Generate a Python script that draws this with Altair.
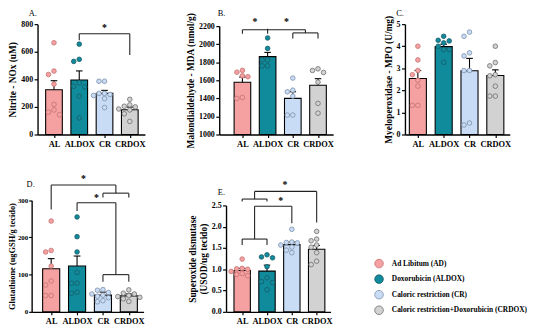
import altair as alt
import pandas as pd
import numpy as np

SERIF = "Liberation Serif"

groups = ["AL", "ALDOX", "CR", "CRDOX"]
legend_labels = ["Ad Libitum (AD)", "Doxorubicin (ALDOX)", "Caloric restriction (CR)",
                 "Caloric restriction+Doxorubicin (CRDOX)"]
bar_colors = ["#F6A1A1", "#0F8B9C", "#C8DCF5", "#D2D2D2"]
point_edges = ["#C47272", "#1B5A66", "#7D8FAA", "#6E6E6E"]

# ---------- A. Nitrite - NOx ----------
nox_mean = [325, 395, 298, 180]
nox_sem = [65, 66, 22, 19]
nox_points = [
    [665, 460, 435, 365, 218, 178, 162, 143],
    [655, 545, 530, 375, 350, 345, 278, 120],
    [386, 386, 298, 298, 290, 283, 260, 195],
    [255, 215, 205, 200, 185, 178, 150, 95],
]
nox_brackets = [[1, 3, 731, 731], [1, 1, 731, 683], [3, 3, 731, 576]]
nox_stars = [[2, 770]]

# ---------- B. Malondialdehyde - MDA ----------
mda_mean = [1578, 1862, 1400, 1545]
mda_sem = [58, 47, 73, 73]
mda_points = [
    [1710, 1690, 1650, 1640, 1410, 1400],
    [2069, 1953, 1825, 1825, 1760, 1760],
    [1625, 1491, 1473, 1425, 1215, 1215],
    [1727, 1709, 1687, 1580, 1345, 1236],
]
mda_brackets = [[0, 2.5, 2160, 2160], [0, 0, 2160, 2115], [1, 1, 2170, 2115],
                [2.5, 2.5, 2160, 2125], [2, 3, 2125, 2125], [2, 2, 2125, 2062], [3, 3, 2125, 2062]]
mda_stars = [[0.5, 2240], [1.75, 2240]]

# ---------- C. Myeloperoxidase - MPO ----------
mpo_mean = [2.54, 3.98, 2.89, 2.67]
mpo_sem = [0.36, 0.11, 0.56, 0.26]
mpo_points = [
    [4.00, 3.38, 2.90, 2.71, 2.46, 2.19, 1.32, 1.32],
    [4.45, 4.27, 4.24, 4.15, 4.00, 3.85, 3.85, 3.27],
    [4.64, 4.45, 3.70, 3.56, 2.90, 2.90, 0.52, 0.43],
    [4.00, 3.26, 3.11, 2.71, 2.66, 2.19, 1.74, 1.74],
]
mpo_brackets = []
mpo_stars = []

# ---------- D. Glutathione ----------
gsh_mean = [116, 123, 45, 43]
gsh_sem = [27, 27, 8, 5]
gsh_points = [
    [244, 165, 161, 123, 83, 72, 44, 44],
    [255, 202, 161, 106, 77, 77, 53, 50],
    [60, 58, 52, 48, 45, 42, 38, 30, 27],
    [59, 50, 48, 44, 41, 39, 35, 28],
]
gsh_brackets = [[0, 2.5, 341, 341], [0, 0, 341, 275], [2.5, 2.5, 341, 319], [2, 3, 319, 319],
                [2, 2, 319, 307], [3, 3, 319, 307], [1, 2.5, 293, 293], [1, 1, 293, 271],
                [2.5, 2.5, 293, 100], [2, 3, 100, 100], [2, 2, 100, 81], [3, 3, 100, 81]]
gsh_stars = [[1.25, 356], [1.75, 307]]

# ---------- E. Superoxide dismutase ----------
sod_mean = [0.97, 0.957, 1.58, 1.47]
sod_sem = [0.05, 0.14, 0.06, 0.09]
sod_points = [
    [1.24, 1.02, 1.01, 1.00, 0.95, 0.90, 0.88, 0.85],
    [1.34, 1.29, 1.27, 1.06, 0.80, 0.71, 0.69, 0.52],
    [1.94, 1.64, 1.63, 1.62, 1.57, 1.52, 1.45, 1.39],
    [1.89, 1.71, 1.67, 1.57, 1.52, 1.39, 1.19, 1.11],
]
sod_brackets = [[0, 1, 1.71, 1.71], [0, 0, 1.71, 1.57], [1, 1, 1.71, 1.57], [0.5, 0.5, 1.71, 2.48],
                [0.5, 2, 2.48, 2.48], [2, 2, 2.48, 2.08], [0, 1, 2.65, 2.65], [0, 0, 2.65, 2.59],
                [1, 1, 2.65, 2.59], [0.5, 0.5, 2.65, 2.83], [0.5, 3, 2.83, 2.83], [3, 3, 2.83, 2.10]]
sod_stars = [[1.55, 2.60], [1.72, 2.97]]

PAD = 6
W, H = 534 - PAD, 312 - PAD

panels = [
    dict(letter="A.", mean=nox_mean, sem=nox_sem, pts=nox_points, br=nox_brackets, st=nox_stars,
         title="Nitrite - NOx (uM)", yticks=[0, 200, 400, 600, 800], fmt="d",
         xdom=[-0.65, 3.6], xr=[24, 133], ydom=[0, 800], yr=[120, 8], letter_pos=[-1.0, 857]),
    dict(letter="B.", mean=mda_mean, sem=mda_sem, pts=mda_points, br=mda_brackets, st=mda_stars,
         title="Malondialdehyde - MDA (nmol/g)", yticks=[1000, 1200, 1400, 1600, 1800, 2000, 2200], fmt="d",
         xdom=[-0.92, 3.6], xr=[208.4, 324], ydom=[1000, 2200], yr=[120, 10], letter_pos=[-0.98, 2309]),
    dict(letter="C.", mean=mpo_mean, sem=mpo_sem, pts=mpo_points, br=mpo_brackets, st=mpo_stars,
         title="Myeloperoxidase - MPO (U/mg)", yticks=[0, 1, 2, 3, 4, 5], fmt="d",
         xdom=[-0.5, 3.56], xr=[396.9, 503.3], ydom=[0, 5], yr=[120, 8], letter_pos=[-0.84, 5.36]),
    dict(letter="D.", mean=gsh_mean, sem=gsh_sem, pts=gsh_points, br=gsh_brackets, st=gsh_stars,
         title="Glutathione (ugGSH/g tecido)", yticks=[0, 100, 200, 300], fmt="d",
         xdom=[-0.755, 3.57], xr=[18, 131.6], ydom=[0, 300], yr=[300, 186.7], letter_pos=[-0.95, 335],
         lfs=7, tfs=8.5, tpad=0.5, tsz=3, lpad=1),
    dict(letter="E.", mean=sod_mean, sem=sod_sem, pts=sod_points, br=sod_brackets, st=sod_stars,
         title=["Superoxide dismutase", "(USOD/ug tecido)"], yticks=[0, 0.5, 1.0, 1.5, 2.0, 2.5], fmt=".1f",
         xdom=[-0.65, 3.56], xr=[215.3, 321.4], ydom=[0, 2.5], yr=[300, 192], letter_pos=[-0.98, 2.74]),
]

fill_scale = alt.Scale(domain=groups, range=bar_colors)
edge_scale = alt.Scale(domain=groups, range=point_edges)

label_expr = ("datum.label == 'AL' ? '%s' : datum.label == 'ALDOX' ? '%s' : "
              "datum.label == 'CR' ? '%s' : '%s'") % tuple(legend_labels)


def swarm(vals, ppu_y, ppu_x, step=5.6, diam=5.0):
    vals = np.asarray(vals, dtype=float)
    order = np.argsort(-vals, kind="stable")
    placed = []
    offs = np.zeros(len(vals))
    for i in order:
        y = vals[i] * ppu_y
        dx = 0.0
        for c in [0, -1, 1, -2, 2, -3, 3]:
            dx = c * step
            if all((dx - px) ** 2 + (y - py) ** 2 >= diam ** 2 for px, py in placed):
                break
        placed.append((dx, y))
        offs[i] = dx / ppu_x
    return offs


def make_panel(p, first):
    xs = alt.Scale(domain=p["xdom"], range=p["xr"], nice=False, zero=False)
    ys = alt.Scale(domain=p["ydom"], range=p["yr"], nice=False, zero=False)
    ppu_x = (p["xr"][1] - p["xr"][0]) / (p["xdom"][1] - p["xdom"][0])
    ppu_y = (p["yr"][0] - p["yr"][1]) / (p["ydom"][1] - p["ydom"][0])

    xaxis = alt.Axis(values=[0, 1, 2, 3], labelExpr="['AL','ALDOX','CR','CRDOX'][datum.value]",
                     title=None, orient="bottom", offset=-(H - p["yr"][0]), grid=False,
                     domainColor="black", domainWidth=1.4, tickColor="black", tickWidth=1.2,
                     tickSize=3, labelFont=SERIF, labelFontWeight="bold", labelFontSize=8.5,
                     labelColor="black", labelPadding=2, labelOverlap=False)
    yaxis = alt.Axis(values=p["yticks"], format=p["fmt"], title=p["title"], orient="left",
                     offset=-p["xr"][0], grid=False, domainColor="black", domainWidth=1.4,
                     tickColor="black", tickWidth=1.2, tickSize=p.get("tsz", 3.5), labelFont=SERIF,
                     labelFontWeight="bold", labelFontSize=p.get("lfs", 8), labelColor="black",
                     labelPadding=p.get("lpad", 1.5), titleFont=SERIF, titleFontWeight="bold",
                     titleFontSize=p.get("tfs", 9.5), titleColor="black",
                     titlePadding=p.get("tpad", 3), titleLineHeight=11, labelOverlap=False)

    base = p["ydom"][0]
    bars_df = pd.DataFrame({"group": groups, "pos": [0, 1, 2, 3], "mean": p["mean"], "sem": p["sem"]})
    bars_df["lo"] = bars_df["pos"] - 0.33
    bars_df["hi"] = bars_df["pos"] + 0.33
    bars_df["base"] = base
    bars_df["top"] = bars_df["mean"] + bars_df["sem"]
    bars_df["clo"] = bars_df["pos"] - 0.13
    bars_df["chi"] = bars_df["pos"] + 0.13

    if first:
        legend = alt.Legend(orient="none", legendX=365.6, legendY=246, title=None,
                            symbolType="circle", symbolSize=76, symbolStrokeColor="#555",
                            symbolStrokeWidth=0.8, labelFont=SERIF, labelFontWeight="bold",
                            labelFontSize=7.5, labelColor="black", labelExpr=label_expr,
                            rowPadding=3.8, labelOffset=8, padding=0)
    else:
        legend = None

    X = lambda f: alt.X(f, scale=xs, axis=xaxis)
    Y = lambda f: alt.Y(f, scale=ys, axis=yaxis)

    bars = alt.Chart(bars_df).mark_bar(stroke="black", strokeWidth=1.1).encode(
        x=X("lo:Q"), x2="hi:Q", y=Y("mean:Q"), y2="base:Q",
        fill=alt.Fill("group:N", scale=fill_scale, legend=legend),
    )
    err = alt.Chart(bars_df).mark_rule(color="black", strokeWidth=1.1).encode(
        x=X("pos:Q"), y=Y("mean:Q"), y2="top:Q",
    )
    cap = alt.Chart(bars_df).mark_rule(color="black", strokeWidth=1.1).encode(
        x=X("clo:Q"), x2="chi:Q", y=Y("top:Q"),
    )

    rows = []
    for gi, vals in enumerate(p["pts"]):
        offs = swarm(vals, ppu_y, ppu_x)
        for v, o in zip(vals, offs):
            rows.append({"group": groups[gi], "value": v, "xp": gi + o})
    pts_df = pd.DataFrame(rows)
    pts = alt.Chart(pts_df).mark_circle(size=22, strokeWidth=0.8, opacity=1).encode(
        x=X("xp:Q"), y=Y("value:Q"),
        fill=alt.Fill("group:N", scale=fill_scale, legend=legend),
        stroke=alt.Stroke("group:N", scale=edge_scale, legend=None),
    )

    layers = [bars, err, cap, pts]

    if p["br"]:
        br_df = pd.DataFrame(p["br"], columns=["x1", "x2", "y1", "y2"])
        layers.append(alt.Chart(br_df).mark_rule(color="#222", strokeWidth=1.1).encode(
            x=X("x1:Q"), x2="x2:Q", y=Y("y1:Q"), y2="y2:Q",
        ))
    if p["st"]:
        st_df = pd.DataFrame(p["st"], columns=["sx", "sy"])
        st_df["t"] = "*"
        layers.append(alt.Chart(st_df).mark_text(font=SERIF, fontWeight="bold", fontSize=10,
                                                 color="black", baseline="middle").encode(
            x=X("sx:Q"), y=Y("sy:Q"), text="t:N",
        ))
    let_df = pd.DataFrame({"lx": [p["letter_pos"][0]], "ly": [p["letter_pos"][1]], "t": [p["letter"]]})
    layers.append(alt.Chart(let_df).mark_text(font=SERIF, fontSize=8.5, color="black",
                                              align="left", baseline="alphabetic").encode(
        x=X("lx:Q"), y=Y("ly:Q"), text="t:N",
    ))
    return alt.layer(*layers)


chart = alt.layer(*[make_panel(p, i == 0) for i, p in enumerate(panels)]).resolve_scale(
    x="independent", y="independent"
).resolve_axis(
    x="independent", y="independent"
).properties(
    width=W, height=H, padding={"left": PAD, "top": PAD, "right": 8, "bottom": 8},
    autosize=alt.AutoSizeParams(type="none"), background="white"
).configure_view(stroke=None)

chart.save("out.html", embed_options={"renderer": "svg", "actions": False})
